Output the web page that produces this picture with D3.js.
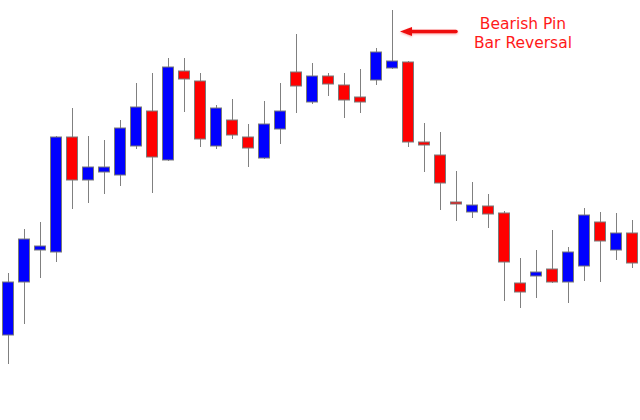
<!DOCTYPE html>
<meta charset="utf-8">
<head>
  <title>Bearish Pin Bar Reversal</title>
  <script src="https://cdn.jsdelivr.net/npm/d3@7"></script>
  <style>
    body {margin: 0; background: #fff;}
    svg {display: block;}
  </style>
</head>
<body>
<div id="chart"></div>
<script>
    // candle data (price units)
    var openVals  = [65,118,150,148,263,220,228,225,254,289,240,329,319,254,280,263,242,271,328,298,324,315,303,320,332,338,258,245,198,188,194,187,117,124,131,118,134,178,150,167];
    var highVals  = [127,171,178,264,292,264,260,280,317,327,342,342,327,295,301,276,299,317,366,337,327,327,331,352,390,339,277,268,229,218,206,189,142,150,170,153,192,188,187,180];
    var lowVals   = [36,76,122,138,191,197,206,214,251,207,239,288,253,251,261,233,241,256,287,296,304,282,287,315,331,253,228,190,179,182,172,99,92,102,117,97,119,118,140,132];
    var closeVals = [118,161,154,263,220,233,233,272,293,243,333,321,261,292,265,252,276,289,314,324,316,300,298,348,339,258,255,217,196,195,186,138,108,128,118,148,185,159,167,137];
    var candles = openVals.map(function(o, i) {
        return {i: i, open: o, high: highVals[i], low: lowVals[i], close: closeVals[i]};
    });

    var width = 640, height = 420;

    var svg = d3.select("#chart").append("svg")
        .attr("width", width)
        .attr("height", height);

    var x = d3.scaleBand()
        .domain(candles.map(function(d){ return d.i; }))
        .range([0, width])
        .paddingInner(0.25)
        .paddingOuter(0.125);

    var y = d3.scaleLinear().domain([0, 400]).range([400, 0]);

    var g = svg.append("g").attr("class", "candles");

    // wicks
    g.selectAll(".wick")
        .data(candles)
        .enter()
        .append("line")
        .attr("class", "wick")
        .attr("x1", function(d){ return Math.round(x(d.i) + x.bandwidth()/2) + 0.5; })
        .attr("x2", function(d){ return Math.round(x(d.i) + x.bandwidth()/2) + 0.5; })
        .attr("y1", function(d){ return y(d.high); })
        .attr("y2", function(d){ return y(d.low); })
        .style("stroke", "#808080")
        .style("stroke-width", 1);

    // bodies
    g.selectAll(".body")
        .data(candles)
        .enter()
        .append("rect")
        .attr("class", "body")
        .attr("x", function(d){ return Math.round(x(d.i)) + 0.5; })
        .attr("width", x.bandwidth() - 1)
        .attr("y", function(d){ return y(Math.max(d.open, d.close)); })
        .attr("height", function(d){ return Math.max(1, Math.abs(y(d.open) - y(d.close))); })
        .style("fill", function(d){ return d.close >= d.open ? "#0000ff" : "#ff0000"; })
        .style("stroke", "#7a7a7a")
        .style("stroke-width", 1);

    // arrow pointing at the pin bar
    var pin = candles[24];
    var defs = svg.append("defs");
    var f = defs.append("filter").attr("id", "shadow")
        .attr("x", "-20%").attr("y", "-100%").attr("width", "140%").attr("height", "300%");
    f.append("feDropShadow").attr("dx", 0).attr("dy", 1).attr("stdDeviation", 1)
        .attr("flood-color", "#ff0000").attr("flood-opacity", 0.35);

    var ax = x(pin.i) + x.bandwidth() + 2, ay = 31.5;
    var arrow = svg.append("g").attr("filter", "url(#shadow)");
    arrow.append("line")
        .attr("x1", ax + 8).attr("y1", ay)
        .attr("x2", ax + 56).attr("y2", ay)
        .style("stroke", "#ee1111")
        .style("stroke-width", 3.5)
        .style("stroke-linecap", "round");
    arrow.append("path")
        .attr("d", "M" + ax + "," + ay + " L" + (ax + 12) + "," + (ay - 4.5) + " L" + (ax + 12) + "," + (ay + 4.5) + "Z")
        .style("fill", "#ee1111");

    // label
    var label = svg.append("text")
        .attr("x", 523)
        .attr("y", 29)
        .attr("text-anchor", "middle")
        .style("font-family", "Verdana, 'DejaVu Sans', sans-serif")
        .style("font-size", "15.5px")
        .style("fill", "#ff1a1a");
    label.append("tspan").attr("x", 523).attr("dy", 0).text("Bearish Pin");
    label.append("tspan").attr("x", 523).attr("dy", 19).text("Bar Reversal");
</script>
</body>
</html>
